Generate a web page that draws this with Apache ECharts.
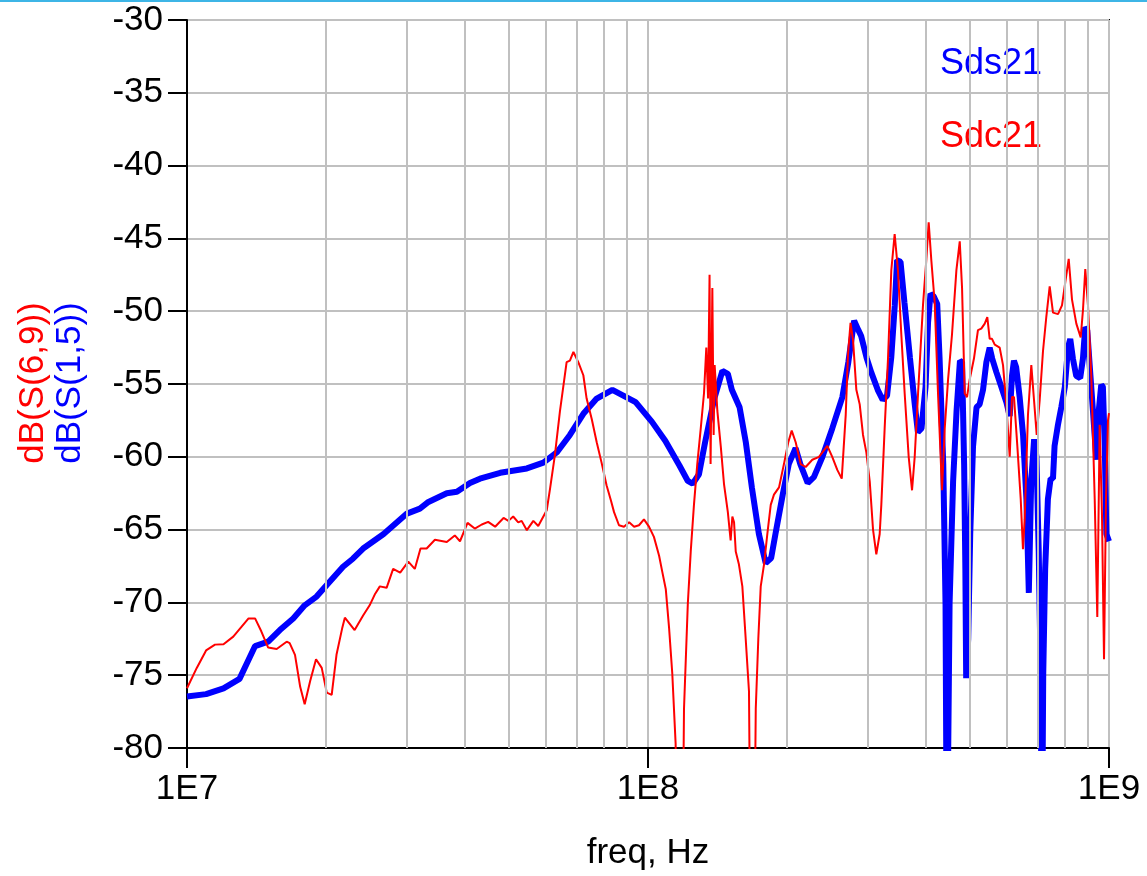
<!DOCTYPE html>
<html>
<head>
<meta charset="utf-8">
<script src="https://cdn.jsdelivr.net/npm/echarts@6/dist/echarts.min.js"></script>
<style>
html,body{margin:0;padding:0;background:#fff;}
#chart{width:1147px;height:876px;}
</style>
</head>
<body>
<div id="chart"></div>
<script>
// Sds21 = dB(S(1,5)), blue; frequencies in MHz
const sdsFreqMHz = [10.0,11.0,12.0,13.0,14.05,15.0,15.9,17.0,18.0,19.1,20.1,21.8,22.9,24.1,26.7,30.0,32.0,33.4,36.6,38.5,41.1,43.2,47.8,54.6,59.3,63.4,67.7,72.4,77.4,83.7,94.0,102,109,117,122,125,129,133,139,145,149,152,158,163,168,174,180,185,189,196,202,209,214,222,229,239,251,264,272,280,286,290,298,305,315,323,330,337,343,347,353,360,370,379,385,392,400,405,410,417,424,429,437,442,445,449,451,459,467,475,480,485,488,490,495,500,507,516,524,533,542,551,558,570,584,599,609,616,622,629,640,651,662,670,673,678,688,696,704,711,715,720,727,737,747,756,762,775,788,802,815,824,835,849,866,878,888,897,908,923,939,950,962,970,979,987,1000];
const sdsDb = [-76.46,-76.3,-75.9,-75.25,-73.0,-72.7,-71.9,-71.1,-70.2,-69.6,-68.8,-67.55,-67.0,-66.3,-65.3,-63.9,-63.56,-63.1,-62.5,-62.4,-61.8,-61.5,-61.1,-60.8,-60.4,-59.7,-58.5,-57.05,-56.0,-55.4,-56.25,-57.6,-58.9,-60.6,-61.66,-61.85,-61.2,-59.0,-56.1,-54.1,-54.3,-55.4,-56.6,-59.0,-62.1,-65.3,-67.3,-66.95,-65.3,-62.6,-60.5,-59.4,-60.5,-61.8,-61.4,-60.0,-58.05,-55.9,-53.5,-50.65,-51.3,-51.7,-53.2,-54.2,-55.4,-56.1,-55.8,-53.2,-49.6,-46.5,-46.6,-49.4,-53.2,-56.4,-58.3,-58.05,-55.2,-50.8,-48.8,-49.0,-49.5,-53.2,-60.5,-70.1,-90,-90,-70.1,-61.7,-56.85,-53.4,-53.5,-60.5,-67.7,-75.2,-72.5,-65.3,-59.3,-56.6,-56.4,-55.4,-53.5,-52.5,-53.25,-54.2,-55.2,-56.25,-57.2,-54.45,-53.4,-53.85,-55.9,-58.5,-62.9,-69.35,-69.35,-61.7,-58.8,-60.0,-66.5,-74.9,-90,-74.9,-67.7,-62.9,-61.5,-61.5,-59.25,-57.8,-56.6,-55.2,-52.5,-51.9,-53.25,-54.45,-54.6,-53.25,-51.1,-51.3,-53.7,-56.85,-60.2,-56.85,-55.05,-55.2,-59.25,-65.3,-65.8];

// Sdc21 = dB(S(6,9)), red; frequencies in MHz
const sdcFreqMHz = [10.0,10.5,11.0,11.5,12.0,12.6,13.6,14.05,14.5,15.0,15.65,16.45,16.7,17.15,17.6,18.0,18.5,19.05,19.6,20.1,20.6,21.1,21.7,22.0,23.1,24.1,24.9,25.6,26.2,27.1,28.0,29.0,30.2,31.2,32.1,33.1,34.5,36.6,38.1,39.1,40.6,42.1,43.6,45.0,46.6,48.6,49.8,51.0,52.3,53.2,54.6,56.4,57.8,60.3,61.3,62.8,64.4,66.6,67.7,68.9,70.6,72.4,73.6,75.5,77.4,79.3,81.3,83.1,84.4,86.5,88.7,91.0,93.3,95.6,98.0,100.5,103,105.7,107.4,109.3,111.1,112.9,114.8,115.6,118.7,119.7,122,123.8,125.8,127.9,130.1,132.3,133.8,135.0,136.0,136.7,137.9,138.8,139.5,141.4,143.8,146.2,149,151.1,152.4,153.7,155.0,157.5,160.2,162.9,165.6,167.0,169.8,171.3,173.5,175.6,178.5,181.5,184.6,187.6,192.4,197.2,201.5,205,209.1,214.4,219.8,227.2,234.9,244.9,251,257.4,263.2,268.5,271.5,275,278.5,283.1,287.9,292.7,297.6,302.7,307.7,312.8,318.1,320.7,326.1,331.6,337.1,342.8,348.5,354.4,360.4,367.7,373.9,378.9,385.3,394.9,401.5,406.3,411.7,418.7,425.7,434.3,440.2,447.6,456.5,466.6,474.5,480,486.4,492,498.6,509.4,519.7,528.4,537.6,544.5,551,557.5,565.1,579.3,589,598.7,609,616,622.2,632.6,643.4,650.7,656.2,667.2,678.4,687.6,696.9,707.4,719.1,731.1,743.6,756,775.2,790.7,803.9,817.7,831.3,849.4,868.2,878.2,888.3,900.3,915.4,931.1,943.2,954.5,965.6,975.4,985.1,994.9,1000];
const sdcDb = [-75.9,-74.5,-73.3,-72.9,-72.87,-72.35,-71.1,-71.1,-72.0,-73.1,-73.2,-72.7,-72.8,-73.6,-75.8,-77.0,-75.4,-73.9,-74.5,-76.2,-76.35,-73.6,-71.8,-71.05,-71.9,-70.9,-70.2,-69.4,-68.9,-69.0,-67.7,-67.96,-67.2,-67.7,-66.3,-66.3,-65.7,-65.85,-65.4,-65.8,-64.54,-64.93,-64.65,-64.47,-64.8,-64.2,-64.4,-64.1,-64.5,-64.4,-65.04,-64.4,-64.75,-63.67,-62.2,-59.9,-56.9,-53.5,-53.4,-52.8,-53.5,-54.4,-56.0,-57.4,-59.0,-60.4,-61.96,-63.0,-63.8,-64.7,-64.8,-64.5,-64.8,-64.7,-64.3,-64.8,-65.5,-66.8,-67.9,-69.1,-71.75,-74.9,-79.7,-90,-90,-77.3,-70.1,-66.5,-63.3,-60.5,-58.1,-55.6,-52.5,-56.0,-47.5,-60.5,-48.4,-58.5,-53.7,-56.85,-59.25,-61.9,-63.8,-65.75,-64.1,-64.5,-66.5,-67.4,-68.9,-72.5,-76.1,-90,-90,-77.3,-72.5,-68.9,-67.4,-65.3,-63.3,-62.6,-62.1,-60.5,-59.0,-58.2,-59.0,-60.5,-60.7,-60.2,-60.0,-59.25,-60.0,-60.9,-61.5,-57.1,-53.0,-50.8,-52.0,-55.4,-56.4,-58.5,-59.7,-61.7,-65.0,-66.7,-65.3,-63.3,-58.05,-53.25,-47.2,-44.7,-47.2,-51.6,-55.65,-60.0,-62.3,-60.0,-55.65,-49.6,-46.5,-43.9,-46.5,-49.4,-55.65,-62.3,-58.05,-54.7,-51.6,-47.2,-45.2,-48.4,-55.65,-55.9,-54.7,-53.25,-51.3,-51.2,-50.85,-50.4,-51.9,-51.9,-52.3,-52.5,-53.7,-56.4,-60.0,-55.9,-55.9,-59.25,-62.9,-66.35,-64.3,-57.1,-53.7,-56.1,-58.5,-56.1,-52.75,-50.4,-48.3,-50.1,-50.2,-49.6,-48.0,-46.4,-49.2,-50.85,-51.8,-49.9,-47.1,-49.6,-54.45,-62.9,-71.0,-57.8,-64.05,-73.9,-62.9,-57.5,-57.0];

// minor log grid positions (Hz)
const minorFreqs = [2e7,3e7,4e7,5e7,6e7,7e7,8e7,9e7,2e8,3e8,4e8,5e8,6e8,7e8,8e8,9e8];
const yTicks = {min:-80, max:-30, step:5};

const toPairs = (f, v) => f.map((x, i) => [x * 1e6, v[i]]);
const FONT = '"Liberation Sans", Arial, sans-serif';
const GRID_C = '#c0c0c0';

const chart = echarts.init(document.getElementById('chart'), null, {renderer:'canvas'});
chart.setOption({
  animation: false,
  backgroundColor: '#ffffff',
  grid: {left:187, right:38, top:20, bottom:126, show:true, borderColor:'#000', borderWidth:2, backgroundColor:'transparent'},
  xAxis: {
    type: 'log', logBase: 10, min: 1e7, max: 1e9, splitNumber: 2,
    name: 'freq, Hz', nameLocation: 'middle', nameGap: 88,
    nameTextStyle: {fontSize: 35, color: '#000', fontFamily: FONT},
    axisLine: {show:true, lineStyle:{color:'#000', width:2}},
    axisTick: {show:true, length:20, inside:false, lineStyle:{color:'#000', width:2}},
    axisLabel: {fontSize:35, color:'#000', fontFamily:FONT, margin:24,
      formatter: v => '1E' + Math.round(Math.log10(v))},
    splitLine: {show:true, lineStyle:{color:GRID_C, width:2}},
    minorTick: {show:false}, minorSplitLine: {show:false}
  },
  yAxis: {
    type: 'value', min: yTicks.min, max: yTicks.max, interval: yTicks.step,
    axisLine: {show:true, onZero:false, lineStyle:{color:'#000', width:2}},
    axisTick: {show:true, length:19, inside:false, lineStyle:{color:'#000', width:2}},
    axisLabel: {fontSize:35, color:'#000', fontFamily:FONT, margin:24},
    splitLine: {show:true, lineStyle:{color:GRID_C, width:2}}
  },
  series: [
    {
      type: 'line', name: 'minorgrid', z: 1, silent: true,
      data: [[1e7, -200]], showSymbol: false, lineStyle: {opacity: 0},
      markLine: {
        silent: true, symbol: ['none','none'], animation: false,
        label: {show:false},
        lineStyle: {color: GRID_C, width: 2, type: 'solid'},
        emphasis: {disabled: true},
        data: minorFreqs.map(f => ({xAxis: f}))
      }
    },
    {
      type: 'line', name: 'Sds21', z: 3, data: toPairs(sdsFreqMHz, sdsDb),
      showSymbol: false, symbol: 'none', clip: true,
      lineStyle: {color: '#0000ff', width: 6}, itemStyle: {color:'#0000ff'}
    },
    {
      type: 'line', name: 'Sdc21', z: 4, data: toPairs(sdcFreqMHz, sdcDb),
      showSymbol: false, symbol: 'none', clip: true,
      lineStyle: {color: '#ff0000', width: 2}, itemStyle: {color:'#ff0000'}
    }
  ],
  graphic: [
    {type:'rect', left:0, top:0, shape:{width:1147, height:2}, style:{fill:'#3db5e6'}, silent:true},
    {type:'text', x:33, y:383, rotation:Math.PI/2,
      style:{text:'dB(S(6,9))', fill:'#ff0000', font:'35px ' + FONT, textAlign:'center', textVerticalAlign:'middle'}},
    {type:'text', x:70, y:383, rotation:Math.PI/2,
      style:{text:'dB(S(1,5))', fill:'#0000ff', font:'35px ' + FONT, textAlign:'center', textVerticalAlign:'middle'}},
    {type:'text', x:940, y:64,
      style:{text:'Sds21', fill:'#0000ff', font:'36px ' + FONT, textAlign:'left', textVerticalAlign:'middle'}},
    {type:'text', x:940, y:137,
      style:{text:'Sdc21', fill:'#ff0000', font:'36px ' + FONT, textAlign:'left', textVerticalAlign:'middle'}}
  ]
});
</script>
</body>
</html>
